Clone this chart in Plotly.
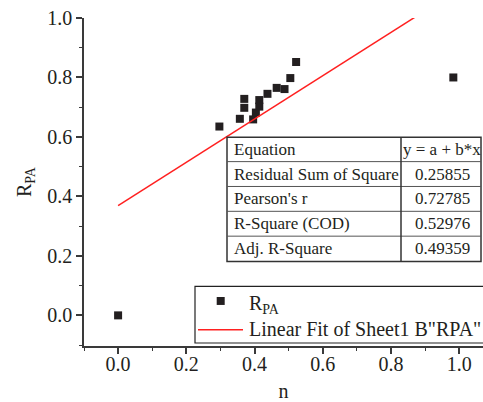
import numpy as np
import plotly.graph_objects as go

# ---- data ----
n_vals = [0.0, 0.297, 0.357, 0.370, 0.370, 0.396, 0.404, 0.414, 0.414,
          0.438, 0.465, 0.488, 0.505, 0.522, 0.983]
rpa_vals = [0.0, 0.635, 0.661, 0.728, 0.698, 0.659, 0.682, 0.724, 0.702,
            0.745, 0.765, 0.761, 0.798, 0.852, 0.80]

table_labels = ["Equation", "Residual Sum of Square", "Pearson's r",
                "R-Square (COD)", "Adj. R-Square"]
table_values = ["y = a + b*x", "0.25855", "0.72785", "0.52976", "0.49359"]

series_name = "R<sub>PA</sub>"
fit_name = 'Linear Fit of Sheet1 B"RPA"'

# ---- linear fit computed from the data ----
b, a = np.polyfit(n_vals, rpa_vals, 1)
x_fit = np.array([min(n_vals), max(n_vals)])
y_fit = a + b * x_fit

W, H = 483, 402
ML, MR, MT, MB = 84, 0, 18, 54
PW, PH = W - ML - MR, H - MT - MB


def px(x):
    return (x - ML) / PW


def py(y):
    return (H - MB - y) / PH


FONT = "Liberation Serif"
INK = "#231f20"
AX = "#3a3a3a"

fig = go.Figure()
fig.add_trace(go.Scatter(x=n_vals, y=rpa_vals, mode="markers",
                         marker=dict(symbol="square", size=8, color=INK),
                         name=series_name, showlegend=False))
fig.add_trace(go.Scatter(x=x_fit, y=y_fit, mode="lines",
                         line=dict(color="#ff2020", width=1.5),
                         name=fit_name, showlegend=False))

shapes = []
annotations = []

# ---- statistics table ----
tl, tr, tcol = 227, 481, 401
row_edges = [138, 162.5, 187.5, 212.5, 237.5, 263]
shapes.append(dict(type="rect", xref="paper", yref="paper",
                   x0=px(tl), x1=px(tr), y0=py(row_edges[-1]), y1=py(row_edges[0]),
                   fillcolor="white", line=dict(color="#333333", width=1.5), layer="above"))
for ye in row_edges[1:-1]:
    shapes.append(dict(type="line", xref="paper", yref="paper",
                       x0=px(tl), x1=px(tr), y0=py(ye), y1=py(ye),
                       line=dict(color="#555555", width=1), layer="above"))
shapes.append(dict(type="line", xref="paper", yref="paper",
                   x0=px(tcol), x1=px(tcol), y0=py(row_edges[-1]), y1=py(row_edges[0]),
                   line=dict(color="#333333", width=1.5), layer="above"))
for i, (lab, val) in enumerate(zip(table_labels, table_values)):
    yc = (row_edges[i] + row_edges[i + 1]) / 2
    annotations.append(dict(xref="paper", yref="paper", x=px(232), y=py(yc),
                            xanchor="left", yanchor="middle", text=lab, showarrow=False,
                            font=dict(family=FONT, size=17, color=INK)))
    annotations.append(dict(xref="paper", yref="paper", x=px(442), y=py(yc),
                            xanchor="center", yanchor="middle", text=val, showarrow=False,
                            font=dict(family=FONT, size=17, color=INK)))

# ---- legend box (drawn) ----
shapes.append(dict(type="rect", xref="paper", yref="paper",
                   x0=px(195), x1=px(495), y0=py(345), y1=py(288),
                   fillcolor="white", line=dict(color="#222222", width=1.2), layer="above"))
shapes.append(dict(type="rect", xref="paper", yref="paper",
                   x0=px(216.7), x1=px(224.7), y0=py(306.7), y1=py(298.7),
                   fillcolor=INK, line=dict(width=0), layer="above"))
shapes.append(dict(type="line", xref="paper", yref="paper",
                   x0=px(198), x1=px(243), y0=py(331.7), y1=py(331.7),
                   line=dict(color="#ff2020", width=1.5), layer="above"))
annotations.append(dict(xref="paper", yref="paper", x=px(247), y=py(306),
                        xanchor="left", yanchor="middle", text=series_name, showarrow=False,
                        font=dict(family=FONT, size=20, color=INK)))
annotations.append(dict(xref="paper", yref="paper", x=px(247), y=py(331),
                        xanchor="left", yanchor="middle", text=fit_name, showarrow=False,
                        font=dict(family=FONT, size=20, color=INK)))

axis_common = dict(showgrid=False, zeroline=False, showline=True, linecolor=AX, linewidth=1.5,
                   ticks="outside", ticklen=6, tickwidth=1.5, tickcolor=AX,
                   tickfont=dict(family=FONT, size=20, color=INK),
                   tickformat=".1f", tick0=0, dtick=0.2,
                   minor=dict(ticks="outside", ticklen=3, tickwidth=1.2, tickcolor=AX, dtick=0.1))

fig.update_layout(
    width=W, height=H,
    margin=dict(l=ML, r=MR, t=MT, b=MB),
    paper_bgcolor="white", plot_bgcolor="white",
    font=dict(family=FONT, color=INK),
    xaxis=dict(range=[-0.1, 1.07], ticklabelstandoff=-7,
               title=dict(text="n", font=dict(family=FONT, size=20, color=INK), standoff=13),
               **axis_common),
    yaxis=dict(range=[-0.103, 1.0], title=dict(text="R<sub>PA</sub>", font=dict(family=FONT, size=20, color=INK), standoff=10),
               **axis_common),
    shapes=shapes, annotations=annotations, showlegend=False,
)

fig.write_html("out.html")
